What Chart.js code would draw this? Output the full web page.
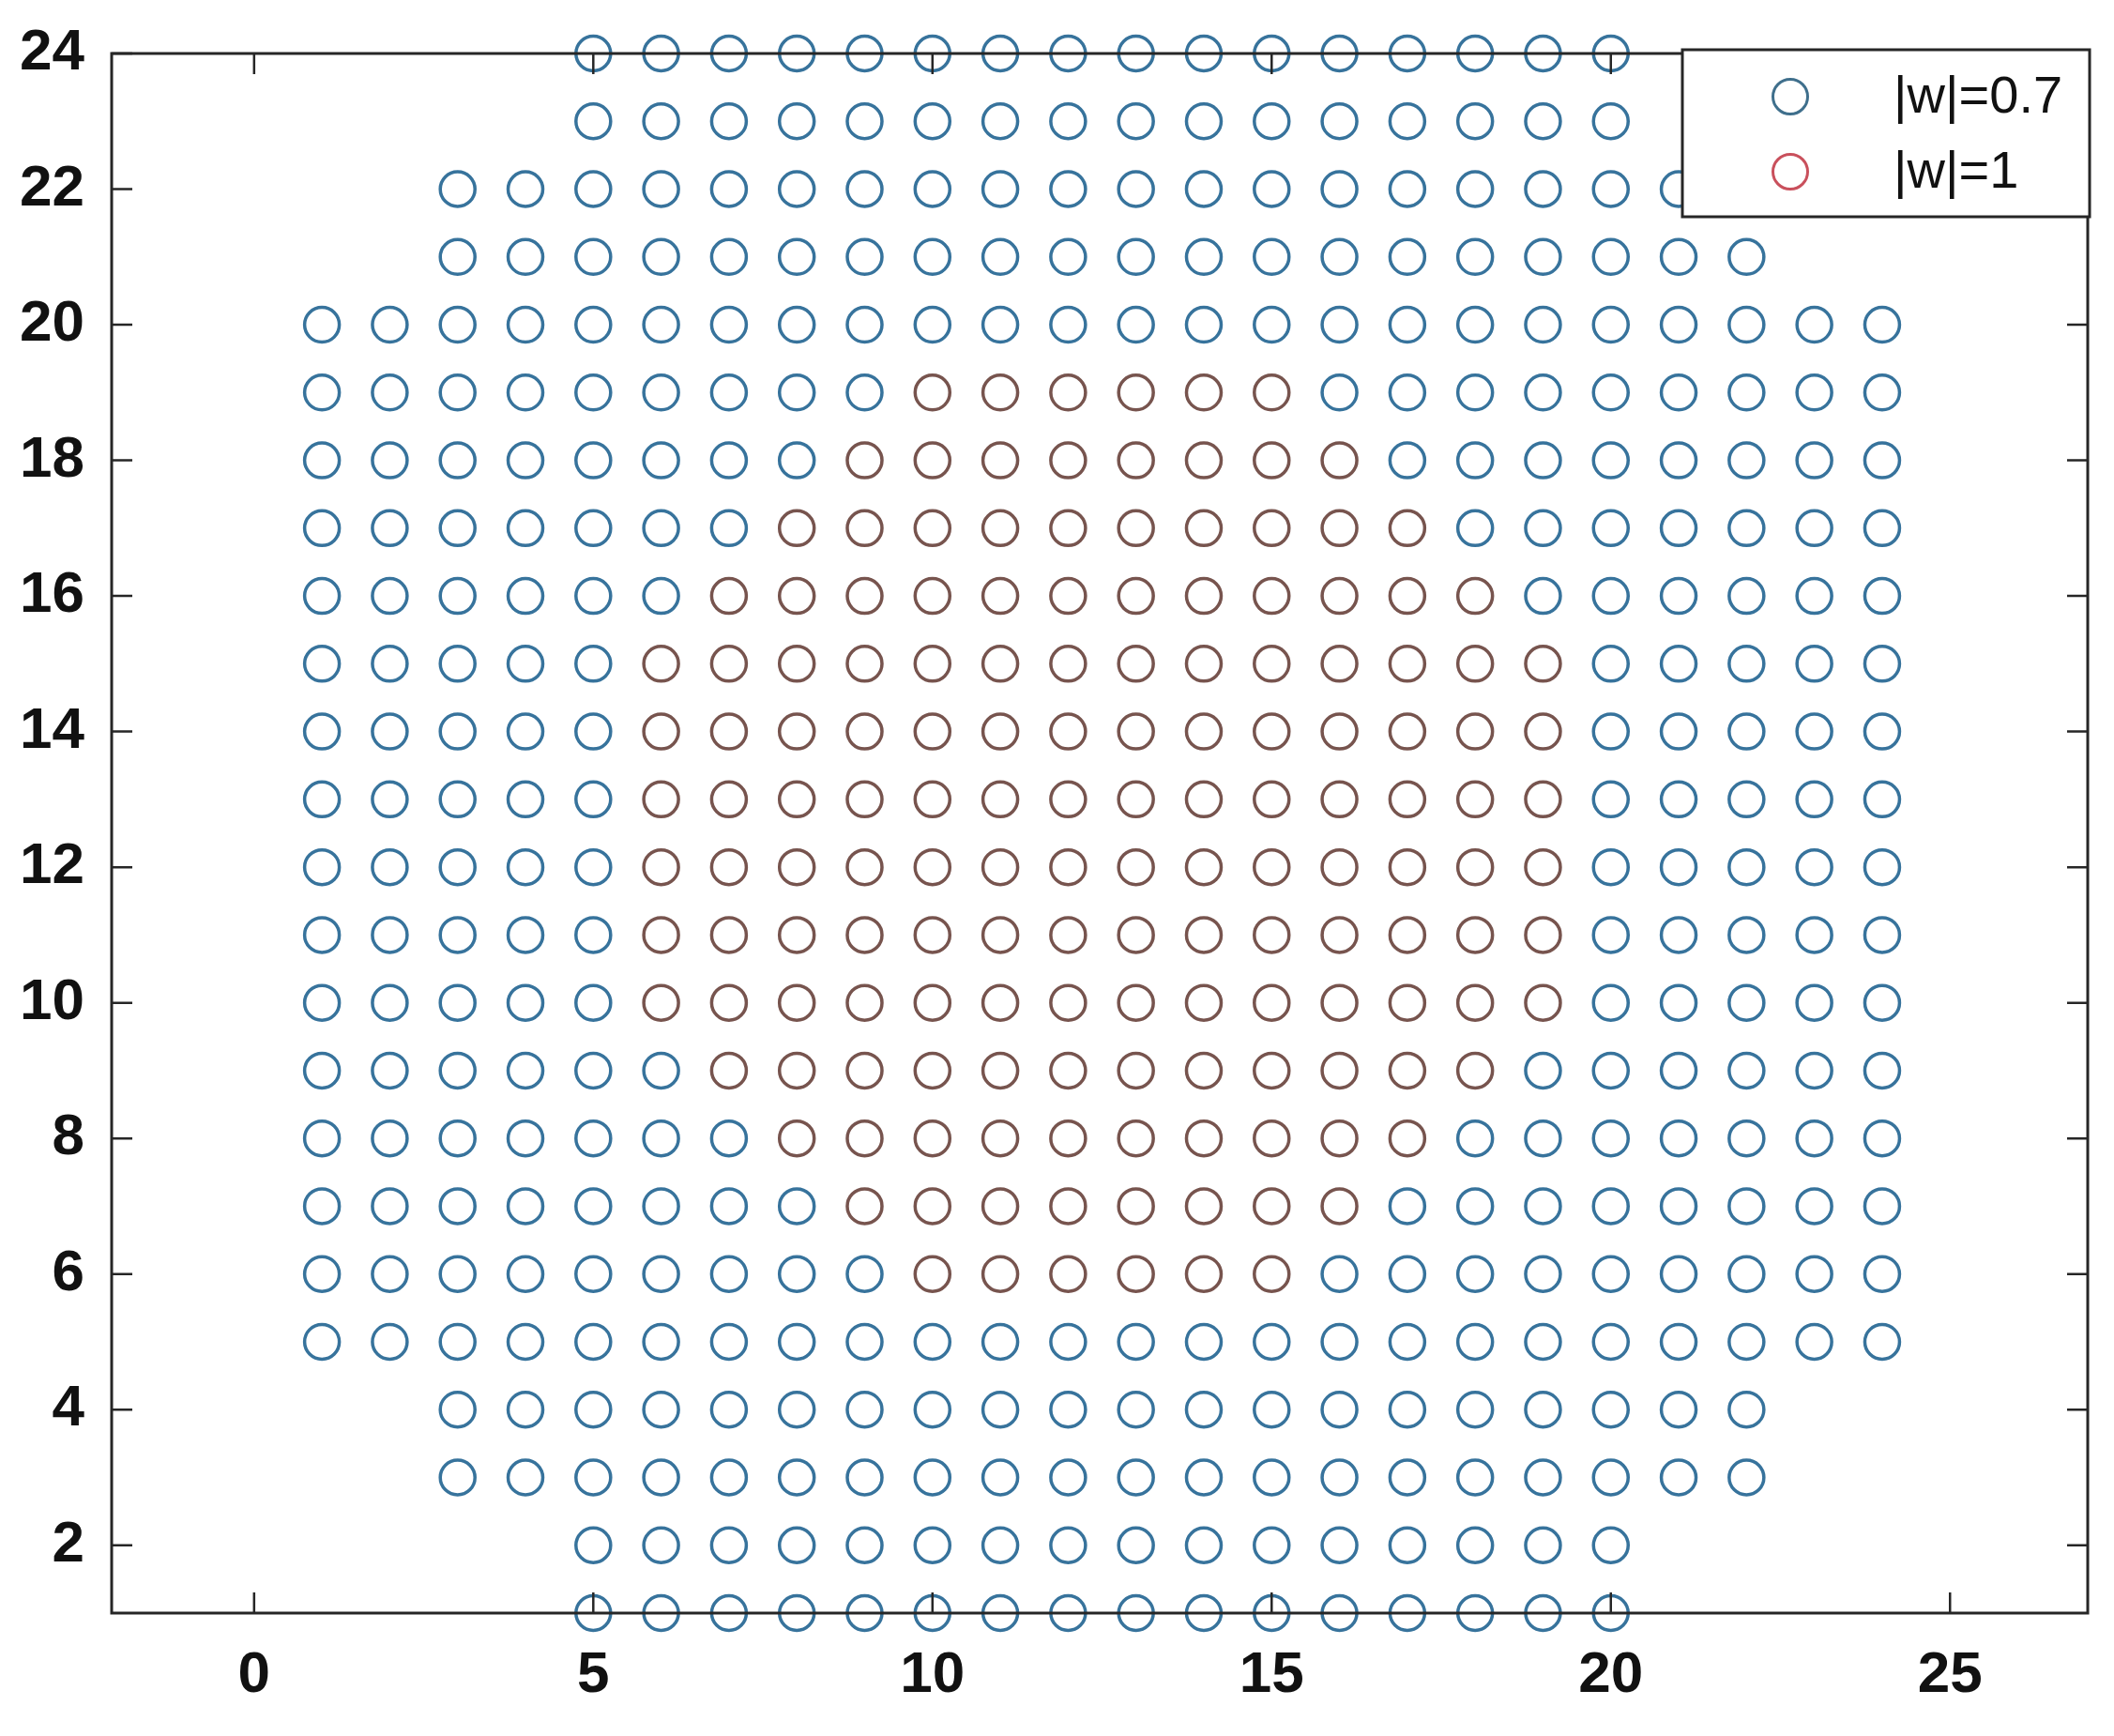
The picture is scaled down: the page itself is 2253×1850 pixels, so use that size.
<!DOCTYPE html>
<html>
<head>
<meta charset="utf-8">
<script src="https://cdn.jsdelivr.net/npm/chart.js@4"></script>
<style>
  html, body { margin: 0; padding: 0; background: #fff; }
</style>
</head>
<body>
<canvas id="myChart" width="2253" height="1850"></canvas>
<script>
// grid rows, top to bottom, with first and last x of each row
const rowY     = [24, 23, 22, 21, 20, 19, 18, 17, 16, 15, 14, 13, 12, 11, 10, 9, 8, 7, 6, 5, 4, 3, 2, 1];
const rowFrom  = [5, 5, 3, 3, 1, 1, 1, 1, 1, 1, 1, 1, 1, 1, 1, 1, 1, 1, 1, 1, 3, 3, 5, 5];
const rowTo    = [20, 20, 22, 22, 24, 24, 24, 24, 24, 24, 24, 24, 24, 24, 24, 24, 24, 24, 24, 24, 22, 22, 20, 20];

// rows of the |w|=1 block in the middle
const redRowY  = [19, 18, 17, 16, 15, 14, 13, 12, 11, 10, 9, 8, 7, 6];
const redFrom  = [10, 9, 8, 7, 6, 6, 6, 6, 6, 6, 7, 8, 9, 10];
const redTo    = [15, 16, 17, 18, 19, 19, 19, 19, 19, 19, 18, 17, 16, 15];

const seriesLabels = ["|w|=0.7", "|w|=1"];
const xTicks = [0, 5, 10, 15, 20, 25];
const yTicks = [2, 4, 6, 8, 10, 12, 14, 16, 18, 20, 22, 24];

// colours
const blueColor = "#37739c";
const redColor = "#77544e";
const legendColors = ["#3f6f8c", "#c9505c"];
const axisColor = "#262626";

function isRed(x, y) {
  const i = redRowY.indexOf(y);
  return i >= 0 && x >= redFrom[i] && x <= redTo[i];
}

// build the point lists from the row tables
const bluePoints = [];
for (let i = 0; i < rowY.length; i++) {
  for (let x = rowFrom[i]; x <= rowTo[i]; x++) {
    if (!isRed(x, rowY[i])) bluePoints.push({ x: x, y: rowY[i] });
  }
}
const redPoints = [];
for (let i = 0; i < redRowY.length; i++) {
  for (let x = redFrom[i]; x <= redTo[i]; x++) {
    redPoints.push({ x: x, y: redRowY[i] });
  }
}

const tickFont = { family: "Liberation Sans", size: 62, weight: "bold" };

// box round the axes with inward ticks on all four sides
const boxPlugin = {
  id: "box",
  afterDatasetsDraw(chart) {
    const c = chart.ctx;
    const a = chart.chartArea;
    const xs = chart.scales.x;
    const ys = chart.scales.y;
    const len = 22;
    c.save();
    c.strokeStyle = axisColor;
    c.lineWidth = 2.5;
    c.beginPath();
    xTicks.forEach(v => {
      const px = xs.getPixelForValue(v);
      c.moveTo(px, a.bottom); c.lineTo(px, a.bottom - len);
      c.moveTo(px, a.top); c.lineTo(px, a.top + len);
    });
    yTicks.forEach(v => {
      const py = ys.getPixelForValue(v);
      c.moveTo(a.left, py); c.lineTo(a.left + len, py);
      c.moveTo(a.right, py); c.lineTo(a.right - len, py);
    });
    c.stroke();
    c.lineWidth = 3;
    c.strokeRect(a.left, a.top, a.right - a.left, a.bottom - a.top);
    c.restore();
  }
};

// legend box in the top right corner
const legendPlugin = {
  id: "boxLegend",
  afterDraw(chart) {
    const c = chart.ctx;
    const a = chart.chartArea;
    const right = a.right + 2;
    const left = right - 434;
    const top = a.top - 4;
    const bottom = top + 178;
    c.save();
    c.fillStyle = "#fff";
    c.fillRect(left, top, right - left, bottom - top);
    c.strokeStyle = axisColor;
    c.lineWidth = 3;
    c.strokeRect(left, top, right - left, bottom - top);
    chart.data.datasets.forEach((ds, i) => {
      const cy = top + 50 + i * 80;
      c.beginPath();
      c.arc(left + 115, cy, 18.5, 0, Math.PI * 2);
      c.strokeStyle = legendColors[i];
      c.lineWidth = 3;
      c.stroke();
      c.fillStyle = "#111";
      c.font = "56px 'Liberation Sans'";
      c.textAlign = "left";
      c.textBaseline = "middle";
      c.fillText(ds.label, left + 225, cy + 2);
    });
    c.restore();
  }
};

const ctx = document.getElementById("myChart");
new Chart(ctx, {
  type: "scatter",
  data: {
    datasets: [
      {
        label: seriesLabels[0],
        data: bluePoints,
        pointStyle: "circle",
        pointRadius: 18.5,
        pointHoverRadius: 18.5,
        pointBorderWidth: 3.5,
        pointBorderColor: blueColor,
        pointBackgroundColor: "rgba(0,0,0,0)",
        clip: false,
      },
      {
        label: seriesLabels[1],
        data: redPoints,
        pointStyle: "circle",
        pointRadius: 18.5,
        pointHoverRadius: 18.5,
        pointBorderWidth: 3.5,
        pointBorderColor: redColor,
        pointBackgroundColor: "rgba(0,0,0,0)",
        clip: false,
      },
    ],
  },
  options: {
    responsive: false,
    animation: false,
    layout: { padding: { top: 57, right: 28, left: 0, bottom: 0 } },
    plugins: {
      legend: { display: false },
      tooltip: { enabled: false },
    },
    scales: {
      x: {
        type: "linear",
        min: -2.1,
        max: 27.03,
        afterBuildTicks: s => { s.ticks = xTicks.map(v => ({ value: v })); },
        afterFit: s => { s.height = 131; s.paddingLeft = 0; s.paddingRight = 0; },
        grid: { display: false, drawTicks: false },
        border: { display: false },
        ticks: { padding: 30, font: tickFont, color: "#111", maxRotation: 0 },
      },
      y: {
        type: "linear",
        min: 1,
        max: 24,
        afterBuildTicks: s => { s.ticks = yTicks.map(v => ({ value: v })); },
        afterFit: s => { s.width = 119; s.paddingTop = 0; s.paddingBottom = 0; },
        grid: { display: false, drawTicks: false },
        border: { display: false },
        ticks: { padding: 29, font: tickFont, color: "#111" },
      },
    },
  },
  plugins: [boxPlugin, legendPlugin],
});
</script>
</body>
</html>
